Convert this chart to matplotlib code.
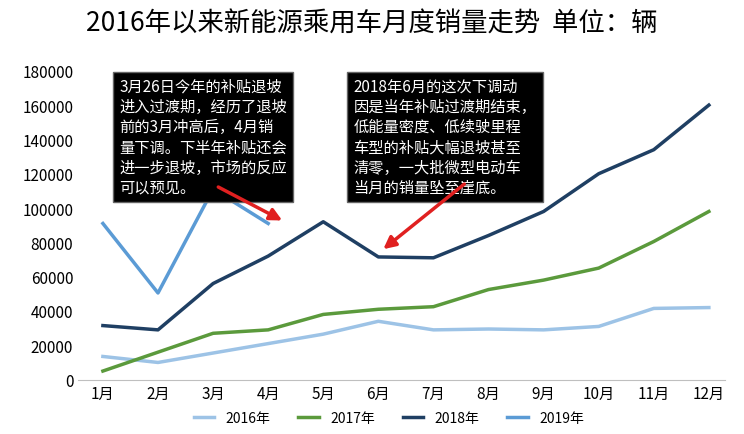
import matplotlib
matplotlib.use('Agg')
import matplotlib.pyplot as plt

plt.rcParams['font.family'] = ['Noto Sans CJK SC', 'DejaVu Sans']

months = ['1月', '2月', '3月', '4月', '5月', '6月', '7月', '8月', '9月', '10月', '11月', '12月']
s2016 = [13500, 10000, 15500, 21000, 26500, 34000, 29000, 29500, 29000, 31000, 41500, 42000]
s2017 = [5000, 16000, 27000, 29000, 38000, 41000, 42500, 52500, 58000, 65000, 80500, 98000]
s2018 = [31500, 29000, 56000, 72000, 92000, 71500, 71000, 84000, 98000, 120000, 134000, 160000]
s2019 = [91000, 50500, 111000, 91000]

fig = plt.figure(figsize=(7.44, 4.35), dpi=100)
ax = fig.add_axes([0.105, 0.125, 0.87, 0.71])
x = range(len(months))
ax.plot(x, s2016, color='#9dc3e6', lw=2.5, label='2016年')
ax.plot(x, s2017, color='#5b9a3c', lw=2.5, label='2017年')
ax.plot(x, s2018, color='#1f3f63', lw=2.5, label='2018年')
ax.plot(range(len(s2019)), s2019, color='#5b9bd5', lw=2.5, label='2019年')

ax.set_ylim(0, 180000)
ax.set_yticks(range(0, 180001, 20000))
ax.set_xlim(-0.45, 11.3)
ax.set_xticks(list(x))
ax.set_xticklabels(months)
ax.tick_params(labelsize=11, length=0)
for s in ['top', 'right', 'left']:
    ax.spines[s].set_visible(False)
ax.spines['bottom'].set_color('#bfbfbf')

fig.suptitle('2016年以来新能源乘用车月度销量走势  单位：辆', fontsize=19, y=0.975)

box = dict(boxstyle='square,pad=0.4', fc='black', ec='#666666')
ax.text(0.3, 176000, '3月26日今年的补贴退坡\n进入过渡期，经历了退坡\n前的3月冲高后，4月销\n量下调。下半年补贴还会\n进一步退坡，市场的反应\n可以预见。',
        color='white', fontsize=11, va='top', linespacing=1.25, bbox=box)
ax.text(4.55, 176000, '2018年6月的这次下调动\n因是当年补贴过渡期结束，\n低能量密度、低续驶里程\n车型的补贴大幅退坡甚至\n清零，一大批微型电动车\n当月的销量坠至崖底。',
        color='white', fontsize=11, va='top', linespacing=1.25, bbox=box)
ax.annotate('', xy=(3.3, 92000), xytext=(2.05, 113000),
            arrowprops=dict(arrowstyle='-|>', color='#e02020', lw=2.5, mutation_scale=18))
ax.annotate('', xy=(5.05, 75000), xytext=(6.6, 115000),
            arrowprops=dict(arrowstyle='-|>', color='#e02020', lw=2.5, mutation_scale=18))

ax.legend(loc='upper center', bbox_to_anchor=(0.48, -0.075), ncol=4, frameon=False, fontsize=10,
          handlelength=1.5, borderpad=0.1)
fig.savefig('out.png')
